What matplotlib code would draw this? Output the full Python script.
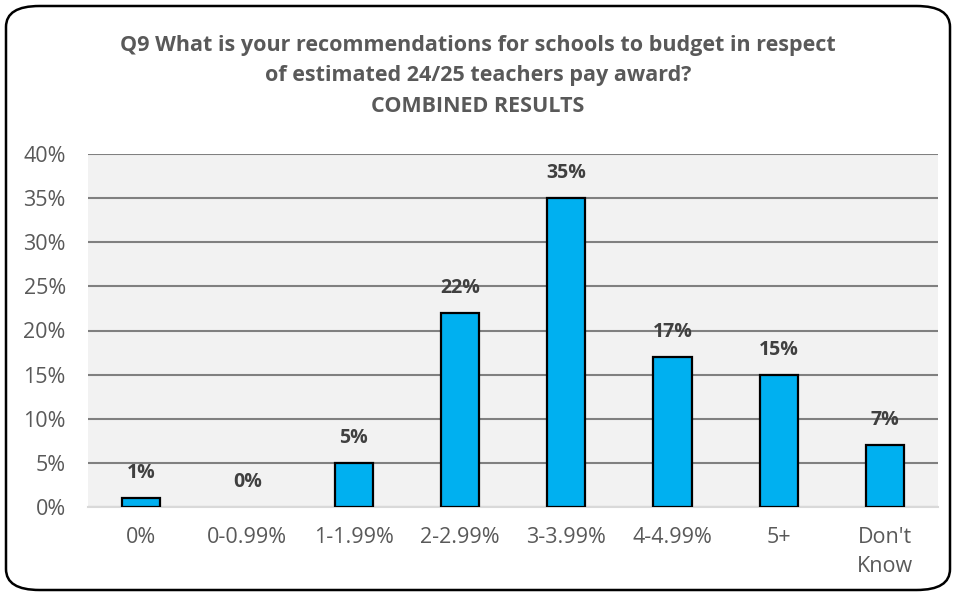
import matplotlib.pyplot as plt
from matplotlib.patches import FancyBboxPatch
from matplotlib.ticker import PercentFormatter

categories = ["0%", "0-0.99%", "1-1.99%", "2-2.99%", "3-3.99%", "4-4.99%", "5+", "Don't\nKnow"]
values = [1, 0, 5, 22, 35, 17, 15, 7]
y_ticks = [0, 5, 10, 15, 20, 25, 30, 35, 40]

title = ("Q9 What is your recommendations for schools to budget in respect\n"
         "of estimated 24/25 teachers pay award?\n"
         "COMBINED RESULTS")

plt.rcParams['font.family'] = ['Open Sans', 'DejaVu Sans']

fig = plt.figure(figsize=(9.56, 5.96), dpi=100)
ax = fig.add_axes([88 / 956, 1 - 507 / 596, 850 / 956, 353 / 596])

# rounded outer frame
frame = FancyBboxPatch((6 / 956, 6 / 596), 944 / 956, 584 / 596,
                       boxstyle="round,pad=0,rounding_size=0.035",
                       transform=fig.transFigure, facecolor='white',
                       edgecolor='black', linewidth=1.8, zorder=-10)
fig.patches.append(frame)

x = range(len(categories))
bars = ax.bar(x, values, width=0.36, color='#00B0F0', edgecolor='black', linewidth=1.6, zorder=3)
for b, v in zip(bars, values):
    if v == 0:
        b.set_edgecolor('none')

for xi, v in zip(x, values):
    ax.annotate(f"{v}%", (xi, v), xytext=(0, 18), textcoords='offset points',
                ha='center', va='center', fontsize=14, fontweight='bold', color='#404040')

ax.set_facecolor('#F2F2F2')
ax.set_xlim(-0.5, len(categories) - 0.5)
ax.set_ylim(0, 40)
ax.set_yticks(y_ticks)
ax.yaxis.set_major_formatter(PercentFormatter(decimals=0))
ax.set_xticks(list(x))
ax.set_xticklabels(categories, linespacing=1.5)
ax.tick_params(axis='both', length=0, labelsize=15.5, labelcolor='#595959')
ax.tick_params(axis='y', pad=16)
ax.tick_params(axis='x', pad=14.5)
for t in ax.get_xticklabels():
    t.set_verticalalignment('top')

ax.grid(axis='y', color='#808080', linewidth=1.5, zorder=0)
ax.set_axisbelow(True)
for side in ['top', 'left', 'right']:
    ax.spines[side].set_visible(False)
ax.spines['bottom'].set_color('#D9D9D9')
ax.spines['bottom'].set_linewidth(1.5)

fig.text(478 / 956, 1 - 76 / 596, title, ha='center', va='center',
         fontsize=15.5, fontweight='bold', color='#595959', linespacing=1.62)

fig.savefig('out.png', dpi=100)
